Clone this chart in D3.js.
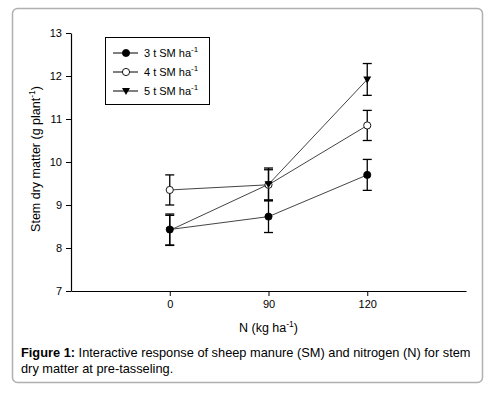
<!DOCTYPE html>
<html>
<head>
<meta charset="utf-8">
<script src="https://cdn.jsdelivr.net/npm/d3@7"></script>
<style>
  body { margin: 0; background: #fff; }
  svg { display: block; font-family: "Liberation Sans", Arial, sans-serif; }
</style>
</head>
<body>
<div id="chart"></div>
<script>
// nitrogen rates (x categories)
const nRates = ["0", "90", "120"];
// sheep manure series
const seriesNames = ["3 t SM ha", "4 t SM ha", "5 t SM ha"];
const sm3 = [8.43, 8.73, 9.70];
const sm3Err = [0.36, 0.37, 0.36];
const sm4 = [9.35, 9.47, 10.85];
const sm4Err = [0.35, 0.35, 0.35];
const sm5 = [8.41, 9.48, 11.92];
const sm5Err = [0.35, 0.38, 0.37];
const yTicks = [7, 8, 9, 10, 11, 12, 13];

const width = 498, height = 393;
const margin = { top: 33, right: 32, bottom: 102, left: 71 };
const plotW = width - margin.left - margin.right;
const plotH = height - margin.top - margin.bottom;

const series = [
    { name: seriesNames[0], values: sm3, err: sm3Err, shape: "filled" },
    { name: seriesNames[1], values: sm4, err: sm4Err, shape: "open" },
    { name: seriesNames[2], values: sm5, err: sm5Err, shape: "triangle" }
];

const svg = d3.select("#chart").append("svg")
    .attr("width", width)
    .attr("height", height);

// figure frame
svg.append("rect")
    .attr("x", 12.5).attr("y", 8.5)
    .attr("width", 470).attr("height", 374)
    .attr("rx", 5)
    .attr("fill", "none")
    .attr("stroke", "#b0b0b0")
    .attr("stroke-width", 1.5);

const g = svg.append("g")
    .attr("transform", "translate(" + margin.left + "," + margin.top + ")");

const x = d3.scalePoint()
    .domain(nRates)
    .range([0, plotW])
    .padding(1);

const y = d3.scaleLinear()
    .domain([7, 13])
    .range([plotH, 0]);

// axes
const yAxis = g.append("g")
    .call(d3.axisLeft(y).tickValues(yTicks).tickFormat(d3.format("d"))
        .tickSize(5).tickSizeOuter(0).tickPadding(4));
yAxis.selectAll("text").attr("font-size", 11).attr("fill", "#000");

const xAxis = g.append("g")
    .attr("transform", "translate(0," + plotH + ")")
    .call(d3.axisBottom(x).tickSize(5).tickSizeOuter(0).tickPadding(4));
xAxis.selectAll("text").attr("font-size", 11).attr("fill", "#000");
g.selectAll(".domain").attr("stroke", "#000").attr("stroke-width", 1.2);

// axis titles
const yTitle = g.append("text")
    .attr("transform", "translate(-31.5," + (plotH / 2 - 3) + ") rotate(-90)")
    .attr("text-anchor", "middle")
    .attr("font-size", 12.5);
yTitle.append("tspan").text("Stem dry matter (g plant");
yTitle.append("tspan").attr("dy", -5).attr("font-size", 8.5).text("-1");
yTitle.append("tspan").attr("dy", 5).text(")");

const xTitle = g.append("text")
    .attr("x", x("90"))
    .attr("y", plotH + 41)
    .attr("text-anchor", "middle")
    .attr("font-size", 12.5);
xTitle.append("tspan").text("N (kg ha");
xTitle.append("tspan").attr("dy", -5).attr("font-size", 8.5).text("-1");
xTitle.append("tspan").attr("dy", 5).text(")");

const line = d3.line()
    .x(function (d, i) { return x(nRates[i]); })
    .y(function (d) { return y(d); });

// connecting lines
series.forEach(function (s) {
    g.append("path")
        .datum(s.values)
        .attr("fill", "none")
        .attr("stroke", "#444")
        .attr("stroke-width", 1)
        .attr("d", line);
});

// error bars
series.forEach(function (s) {
    s.values.forEach(function (v, i) {
        const cx = x(nRates[i]);
        const top = y(v + s.err[i]), bot = y(v - s.err[i]);
        const eg = g.append("g").attr("stroke", "#000").attr("stroke-width", 1.3);
        eg.append("line").attr("x1", cx).attr("x2", cx).attr("y1", top).attr("y2", bot);
        eg.append("line").attr("x1", cx - 4.5).attr("x2", cx + 4.5).attr("y1", top).attr("y2", top);
        eg.append("line").attr("x1", cx - 4.5).attr("x2", cx + 4.5).attr("y1", bot).attr("y2", bot);
    });
});

function drawMarker(sel, shape, cx, cy) {
    if (shape === "triangle") {
        sel.append("path")
            .attr("d", "M" + (cx - 4) + "," + (cy - 3) + "L" + (cx + 4) + "," + (cy - 3) + "L" + cx + "," + (cy + 4) + "Z")
            .attr("fill", "#000");
    } else {
        sel.append("circle")
            .attr("cx", cx).attr("cy", cy).attr("r", 3.6)
            .attr("fill", shape === "filled" ? "#000" : "#fff")
            .attr("stroke", "#000")
            .attr("stroke-width", shape === "filled" ? 0.8 : 0.9);
    }
}

// markers
series.forEach(function (s) {
    s.values.forEach(function (v, i) {
        drawMarker(g, s.shape, x(nRates[i]), y(v));
    });
});

// legend
const legend = svg.append("g").attr("transform", "translate(105,37)");
legend.append("rect")
    .attr("x", 0.5).attr("y", 0.5)
    .attr("width", 104).attr("height", 67)
    .attr("fill", "#fff")
    .attr("stroke", "#000")
    .attr("stroke-width", 1);
series.forEach(function (s, i) {
    const ly = 16 + i * 19;
    legend.append("line")
        .attr("x1", 8).attr("x2", 33)
        .attr("y1", ly).attr("y2", ly)
        .attr("stroke", "#000").attr("stroke-width", 1);
    drawMarker(legend, s.shape, 21, ly);
    const t = legend.append("text")
        .attr("x", 39).attr("y", ly + 4)
        .attr("font-size", 11);
    t.append("tspan").text(s.name);
    t.append("tspan").attr("dy", -5).attr("font-size", 8).text("-1");
});

// caption
const caption = svg.append("text")
    .attr("x", 21)
    .attr("y", 357)
    .attr("font-size", 12.8);
caption.append("tspan").attr("font-weight", "bold").text("Figure 1:");
caption.append("tspan").text(" Interactive response of sheep manure (SM) and nitrogen (N) for stem");
svg.append("text")
    .attr("x", 21)
    .attr("y", 373)
    .attr("font-size", 12.8)
    .text("dry matter at pre-tasseling.");
</script>
</body>
</html>
